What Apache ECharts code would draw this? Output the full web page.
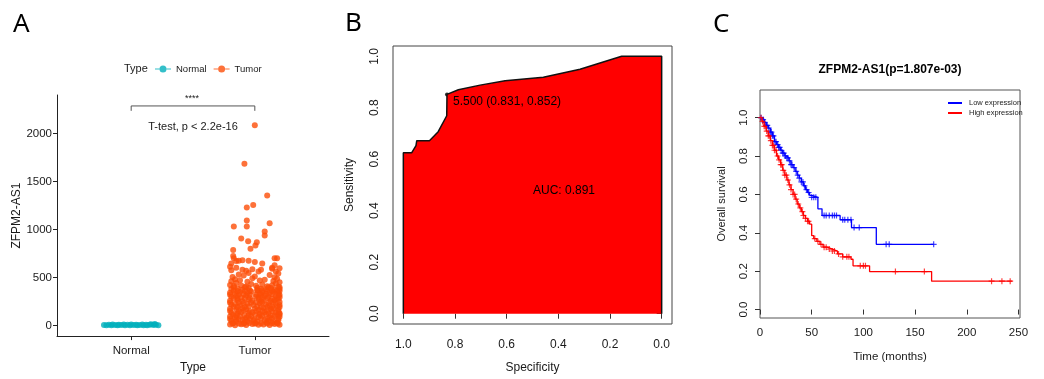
<!DOCTYPE html>
<html>
<head>
<meta charset="utf-8">
<title>ZFPM2-AS1</title>
<script src="https://cdn.jsdelivr.net/npm/echarts@6.0.0/dist/echarts.min.js"></script>
<style>
  html, body { margin: 0; padding: 0; background: #fff; }
  #chart { width: 1044px; height: 379px; }
</style>
</head>
<body>
<div id="chart"></div>
<script>
// ---- A: expression by group, points are [jitter offset, value]
const groups = ['Normal', 'Tumor'];
const normalPoints = [
  [-0.22, 3], [-0.2, 1], [-0.18, 6], [-0.16, 2], [-0.15, 9], [-0.13, 4], [-0.11, 1], [-0.1, 7],
  [-0.08, 3], [-0.06, 10], [-0.05, 2], [-0.03, 5], [-0.01, 1], [0.0, 8], [0.02, 3], [0.04, 6],
  [0.05, 1], [0.07, 4], [0.09, 9], [0.1, 2], [0.12, 5], [0.13, 1], [0.15, 7], [0.16, 12],
  [0.18, 3], [0.19, 15], [0.2, 6], [0.22, 2]
];
const tumorPoints = [
  [-0.2, 8], [-0.16, 2], [-0.11, 12], [-0.07, 4], [-0.02, 15], [0.03, 6], [0.07, 10], [0.12, 3], [0.16, 14], [0.2, 5],
  [-0.19, 48], [-0.15, 41], [-0.1, 55], [-0.06, 44], [-0.01, 52], [0.02, 38], [0.08, 57], [0.11, 46], [0.15, 40], [0.19, 53],
  [-0.2, 92], [-0.16, 85], [-0.12, 98], [-0.07, 80], [-0.03, 95], [0.03, 88], [0.06, 101], [0.12, 83], [0.16, 96], [0.2, 90],
  [-0.19, 131], [-0.14, 124], [-0.11, 140], [-0.05, 128], [-0.02, 135], [0.04, 120], [0.08, 138], [0.11, 127], [0.17, 133], [0.2, 125],
  [-0.2, 172], [-0.15, 165], [-0.1, 180], [-0.07, 168], [0.0, 176], [0.03, 162], [0.07, 184], [0.13, 170], [0.15, 178], [0.19, 166],
  [-0.19, 214], [-0.16, 222], [-0.12, 208], [-0.06, 226], [-0.01, 212], [0.04, 230], [0.09, 216], [0.12, 205], [0.17, 224], [0.2, 211],
  [-0.2, 256], [-0.14, 265], [-0.1, 250], [-0.05, 270], [-0.02, 258], [0.05, 248], [0.07, 268], [0.13, 255], [0.16, 262], [0.19, 274],
  [-0.19, 298], [-0.15, 305], [-0.11, 290], [-0.07, 312], [0.01, 300], [0.03, 294], [0.08, 308], [0.11, 296], [0.17, 302], [0.2, 315],
  [-0.2, 340], [-0.16, 332], [-0.12, 348], [-0.06, 336], [-0.03, 352], [0.04, 330], [0.06, 344], [0.12, 338], [0.15, 350], [0.19, 334],
  [-0.19, 378], [-0.14, 385], [-0.1, 372], [-0.05, 390], [0.02, 368], [0.05, 382], [0.09, 376], [0.13, 388], [0.16, 370], [0.2, 380],
  [-0.175, 25], [-0.085, 28], [0.005, 22], [0.095, 30], [0.18, 26], [-0.13, 65], [-0.04, 70], [0.05, 68], [0.14, 72],
  [-0.175, 110], [-0.085, 105], [0.0, 112], [0.09, 115], [0.18, 108], [-0.13, 150], [-0.04, 148], [0.06, 152], [0.14, 145],
  [-0.17, 195], [-0.08, 190], [0.02, 196], [0.1, 192], [0.18, 198], [-0.13, 238], [-0.03, 236], [0.06, 240], [0.15, 242],
  [-0.17, 280], [-0.08, 282], [0.03, 278], [0.1, 284], [0.18, 286], [-0.13, 322], [-0.04, 318], [0.05, 320], [0.14, 324],
  [-0.17, 360], [-0.08, 358], [0.02, 362], [0.1, 356], [0.18, 360],
  [-0.18, 18], [-0.13, 20], [-0.09, 17], [-0.045, 24], [0.0, 19], [0.05, 21], [0.1, 18], [0.14, 23], [0.185, 20],
  [-0.2, 66], [-0.15, 62], [-0.08, 64], [0.0, 62], [0.1, 66], [0.19, 70],
  [-0.15, 105], [-0.05, 102], [0.04, 108], [0.13, 104], [0.2, 112],
  [-0.2, 150], [-0.09, 155], [0.01, 150], [0.1, 158], [0.19, 148],
  [-0.14, 190], [-0.05, 196], [0.05, 188], [0.14, 194], [0.2, 190],
  [-0.2, 235], [-0.09, 232], [0.01, 240], [0.11, 236], [0.2, 244],
  [-0.14, 282], [-0.04, 285], [0.06, 288], [0.14, 280], [0.2, 292],
  [-0.2, 320], [-0.09, 325], [0.01, 322], [0.09, 326], [0.19, 320],
  [-0.14, 358], [-0.04, 362], [0.06, 366], [0.14, 360], [0.2, 358],
  [-0.17, 395], [-0.08, 398], [0.02, 392], [0.11, 396], [0.2, 398],
  [-0.2, 420], [-0.17, 410], [-0.15, 440], [-0.11, 415], [-0.07, 405], [-0.03, 430], [0.01, 412], [0.06, 425], [0.1, 408], [0.14, 418], [0.19, 402], [0.17, 435],
  [-0.19, 460], [-0.16, 480], [-0.12, 470], [-0.06, 455], [-0.02, 490], [0.04, 468], [0.08, 475], [0.15, 462], [0.18, 485], [0.2, 450],
  [-0.18, 505], [-0.13, 530], [-0.09, 520], [-0.05, 545], [0.0, 510], [0.03, 560], [0.12, 525], [0.16, 500], [0.19, 540],
  [-0.19, 575], [-0.15, 600], [-0.1, 580], [-0.07, 570], [-0.02, 585], [0.05, 578], [0.14, 590], [0.17, 560], [0.2, 595],
  [-0.19, 645], [-0.2, 610], [0.16, 625], [0.14, 600],
  [-0.17, 700], [-0.15, 670], [-0.13, 672], [-0.1, 678], [-0.05, 672], [0.0, 660], [0.16, 700], [0.18, 700],
  [-0.175, 723], [-0.175, 784], [-0.11, 905], [-0.054, 877], [0.06, 644], [0.016, 866], [0.005, 832], [-0.035, 798],
  [0.08, 979], [0.08, 935], [0.12, 1065], [-0.065, 1031], [-0.065, 1092], [-0.17, 1031], [-0.065, 1229], [-0.013, 1253],
  [0.1, 1353], [-0.084, 1685], [0.0, 2085]
];
const exprTicks = [0, 500, 1000, 1500, 2000];

// ---- B: ROC curve
const rocSpecificity = [1.0, 1.0, 0.968, 0.951, 0.948, 0.899, 0.865, 0.832, 0.831, 0.787, 0.703, 0.606, 0.458, 0.316, 0.155, 0.0, 0.0];
const rocSensitivity = [0.0, 0.625, 0.625, 0.653, 0.672, 0.672, 0.707, 0.769, 0.852, 0.870, 0.888, 0.905, 0.919, 0.950, 1.0, 1.0, 0.0];
const bestThreshold = 5.5;
const bestSpec = 0.831;
const bestSens = 0.852;
const auc = 0.891;
const rocTicks = [0, 0.2, 0.4, 0.6, 0.8, 1.0];

// ---- C: Kaplan-Meier
const lowTime = [0, 2, 4, 6, 8, 10, 12, 14, 16, 18, 20, 22, 24, 26, 28, 30, 32, 34, 36, 38, 40, 42, 44, 46, 48, 50, 56, 60, 77.5, 88.5, 112.5];
const lowSurv = [1, 0.99, 0.975, 0.96, 0.945, 0.925, 0.905, 0.875, 0.86, 0.845, 0.83, 0.815, 0.8, 0.79, 0.775, 0.755, 0.74, 0.72, 0.7, 0.685, 0.665, 0.645, 0.625, 0.61, 0.595, 0.585, 0.525, 0.49, 0.468, 0.427, 0.34];
const lowEnd = 168;
const lowCensor = [1, 3, 4.5, 6, 7, 8.5, 10, 11, 12, 13, 14.5, 15.5, 17, 18, 19, 20.5, 22, 23, 24.5, 26, 27, 28.5, 30, 31, 33, 35, 36.5, 38, 40, 41.5, 43, 45, 47, 50, 52, 54, 62, 64, 67, 70, 72, 74, 80, 82, 85, 88, 91, 96, 122, 125, 168];
const highTime = [0, 2, 4, 6, 8, 10, 12, 14, 16, 18, 20, 22, 24, 26, 28, 30, 32, 34, 36, 38, 40, 42, 44, 46, 48, 50, 52, 55, 58, 61, 65, 70, 75, 80, 88, 90, 106, 166];
const highSurv = [1, 0.98, 0.955, 0.93, 0.905, 0.88, 0.855, 0.83, 0.8, 0.78, 0.755, 0.725, 0.7, 0.675, 0.65, 0.625, 0.6, 0.575, 0.55, 0.53, 0.51, 0.49, 0.475, 0.46, 0.445, 0.385, 0.37, 0.355, 0.34, 0.325, 0.315, 0.305, 0.29, 0.275, 0.262, 0.228, 0.198, 0.148];
const highEnd = 244;
const highCensor = [1, 2.5, 4, 5, 6.5, 8, 9, 10.5, 12, 13, 14, 15.5, 17, 18.5, 20, 21, 22.5, 24, 25.5, 27, 28.5, 30, 32, 33.5, 35, 37, 39, 41, 42, 44, 46, 47, 53, 56, 59, 62, 64, 67, 70, 72, 76, 80, 84, 86, 97, 100, 102, 131, 159, 224, 234, 242];
const timeTicks = [0, 50, 100, 150, 200, 250];
const survTicks = [0, 0.2, 0.4, 0.6, 0.8, 1.0];
const kmGene = 'ZFPM2-AS1';
const kmP = '1.807e-03';

const FONT = '"Liberation Sans", Arial, sans-serif';
const INK = '#1a1a1a';
const PLUS = 'path://M4,0h2v4h4v2h-4v4h-2v-4h-4v-2h4z';
const DOT_LINE = 'path://M0,3.4h4.6v1.2h-4.6z M11.4,3.4h4.6v1.2h-4.6z M4.5,4a3.5,3.5 0 1 0 7,0a3.5,3.5 0 1 0 -7,0z';

function stepAt(times, survs, t) {
  let s = survs[0];
  for (let i = 0; i < times.length; i++) {
    if (times[i] <= t) s = survs[i];
  }
  return s;
}
function kmLine(times, survs, end) {
  const d = times.map((t, i) => [t, survs[i]]);
  d.push([end, survs[survs.length - 1]]);
  return d;
}
const fmt1 = v => Number(v).toFixed(1);

const boxAxis = (extra) => Object.assign({
  type: 'value',
  axisLine: { show: false },
  splitLine: { show: false },
  axisTick: { show: true, length: 5, lineStyle: { color: '#333' } },
  axisLabel: { color: INK, fontSize: 12, fontFamily: FONT },
  nameLocation: 'middle',
  nameTextStyle: { color: INK, fontSize: 12, fontFamily: FONT }
}, extra);

const chart = echarts.init(document.getElementById('chart'));
chart.setOption({
  animation: false,
  backgroundColor: '#fff',
  textStyle: { fontFamily: FONT },
  grid: [
    { left: 57, top: 95, width: 272, height: 246 },
    { left: 393, top: 46, width: 279, height: 280, show: true, borderColor: '#444', borderWidth: 1 },
    { left: 760, top: 90, width: 260, height: 228, show: true, borderColor: '#555', borderWidth: 1 }
  ],
  legend: [
    {
      data: groups, left: 155, top: 64, padding: 0, itemWidth: 16, itemHeight: 8, itemGap: 7,
      icon: DOT_LINE, textStyle: { fontSize: 9.5, color: INK }, selectedMode: false
    },
    {
      data: ['Low expression', 'High expression'], orient: 'vertical', left: 943, top: 94,
      itemWidth: 14, itemHeight: 2, itemGap: 2, icon: 'rect',
      textStyle: { fontSize: 7.5, color: INK, padding: [0, 0, 0, 2] }, selectedMode: false
    }
  ],
  xAxis: [
    {
      gridIndex: 0, type: 'value', min: 0.4, max: 2.6,
      axisLine: { show: true, onZero: false, lineStyle: { color: '#222', width: 1 } },
      axisTick: { show: true, length: 4, customValues: [1, 2], lineStyle: { color: '#222' } },
      axisLabel: { customValues: [1, 2], formatter: v => groups[v - 1], color: INK, fontSize: 11.5, margin: 9 },
      splitLine: { show: false },
      name: 'Type', nameLocation: 'middle', nameGap: 25,
      nameTextStyle: { color: INK, fontSize: 12 }
    },
    boxAxis({
      gridIndex: 1, min: -0.04, max: 1.04, inverse: true,
      axisTick: { show: true, length: 5, customValues: rocTicks, lineStyle: { color: '#333' } },
      axisLabel: { customValues: rocTicks, formatter: fmt1, color: INK, fontSize: 12, margin: 15 },
      name: 'Specificity', nameGap: 38
    }),
    boxAxis({
      gridIndex: 2, min: 0, max: 251.5,
      axisTick: { show: true, length: 5, customValues: timeTicks, lineStyle: { color: '#333' } },
      axisLabel: { customValues: timeTicks, color: INK, fontSize: 11.5, margin: 9 },
      name: 'Time (months)', nameGap: 33,
      nameTextStyle: { color: INK, fontSize: 11.5 }
    })
  ],
  yAxis: [
    {
      gridIndex: 0, type: 'value', min: -112, max: 2400,
      axisLine: { show: true, onZero: false, lineStyle: { color: '#222', width: 1 } },
      axisTick: { show: true, length: 4, customValues: exprTicks, lineStyle: { color: '#222' } },
      axisLabel: { customValues: exprTicks, formatter: v => String(v), color: INK, fontSize: 11.5, margin: 5 },
      splitLine: { show: false },
      name: 'ZFPM2-AS1', nameLocation: 'middle', nameGap: 32,
      nameTextStyle: { color: INK, fontSize: 12 }
    },
    boxAxis({
      gridIndex: 1, min: -0.04, max: 1.04,
      axisTick: { show: true, length: 5, customValues: rocTicks, lineStyle: { color: '#333' } },
      axisLabel: { customValues: rocTicks, formatter: fmt1, rotate: 90, color: INK, fontSize: 12, margin: 12 },
      name: 'Sensitivity', nameGap: 37
    }),
    boxAxis({
      gridIndex: 2, min: -0.044, max: 1.144,
      axisTick: { show: true, length: 5, customValues: survTicks, lineStyle: { color: '#333' } },
      axisLabel: { customValues: survTicks, formatter: fmt1, rotate: 90, color: INK, fontSize: 11.5, margin: 10 },
      name: 'Overall survival', nameGap: 33,
      nameTextStyle: { color: INK, fontSize: 11 }
    })
  ],
  series: [
    {
      name: 'Normal', type: 'scatter', xAxisIndex: 0, yAxisIndex: 0, symbolSize: 6,
      itemStyle: { color: '#00AFBB' },
      data: normalPoints.map(p => [1 + p[0], p[1]])
    },
    {
      name: 'Tumor', type: 'scatter', xAxisIndex: 0, yAxisIndex: 0, symbolSize: 6,
      itemStyle: { color: '#FC4E07' },
      data: tumorPoints.map(p => [2 + p[0], p[1]])
    },
    {
      name: 'bracket', type: 'line', xAxisIndex: 0, yAxisIndex: 0, symbol: 'none', silent: true,
      lineStyle: { color: '#555', width: 1 },
      data: [[1, 2235], [1, 2286], [2, 2286], [2, 2235]]
    },
    {
      name: 'ROC', type: 'line', xAxisIndex: 1, yAxisIndex: 1, symbol: 'none', silent: true,
      lineStyle: { color: '#111', width: 1.5 },
      areaStyle: { color: '#FF0000', opacity: 1, origin: 0 },
      data: rocSpecificity.map((s, i) => [s, rocSensitivity[i]])
    },
    {
      name: 'best', type: 'scatter', xAxisIndex: 1, yAxisIndex: 1, symbolSize: 4,
      itemStyle: { color: '#000' },
      data: [[bestSpec, bestSens]]
    },
    {
      name: 'Low expression', type: 'line', xAxisIndex: 2, yAxisIndex: 2, step: 'end', symbol: 'none',
      color: '#0000FF', lineStyle: { color: '#0000FF', width: 1.3 },
      data: kmLine(lowTime, lowSurv, lowEnd)
    },
    {
      name: 'High expression', type: 'line', xAxisIndex: 2, yAxisIndex: 2, step: 'end', symbol: 'none',
      color: '#FF0000', lineStyle: { color: '#FF0000', width: 1.3 },
      data: kmLine(highTime, highSurv, highEnd)
    },
    {
      name: 'lowCensor', type: 'scatter', xAxisIndex: 2, yAxisIndex: 2, symbol: PLUS, symbolSize: 6,
      itemStyle: { color: '#0000FF', opacity: 0.75 },
      data: lowCensor.map(t => [t, stepAt(lowTime, lowSurv, t)])
    },
    {
      name: 'highCensor', type: 'scatter', xAxisIndex: 2, yAxisIndex: 2, symbol: PLUS, symbolSize: 6,
      itemStyle: { color: '#FF0000', opacity: 0.75 },
      data: highCensor.map(t => [t, stepAt(highTime, highSurv, t)])
    }
  ],
  graphic: [
    { type: 'text', z: 100, left: 13, top: 12, style: { text: 'A', fontSize: 26, fontFamily: '"Noto Sans", sans-serif', fill: '#000' } },
    { type: 'text', z: 100, left: 345, top: 11, style: { text: 'B', fontSize: 26, fontFamily: '"Noto Sans", sans-serif', fill: '#000' } },
    { type: 'text', z: 100, left: 713, top: 12, style: { text: 'C', fontSize: 26, fontFamily: '"Noto Sans", sans-serif', fill: '#000' } },
    { type: 'text', z: 100, x: 124, y: 69, style: { text: 'Type', fontSize: 11, fill: INK, verticalAlign: 'middle', fontFamily: FONT } },
    { type: 'text', z: 100, x: 192, y: 99, style: { text: '****', fontSize: 9, fill: INK, align: 'center', verticalAlign: 'middle', fontFamily: FONT } },
    { type: 'text', z: 100, x: 193, y: 127, style: { text: 'T-test, p < 2.2e-16', fontSize: 11, fill: INK, align: 'center', verticalAlign: 'middle', fontFamily: FONT } },
    { type: 'text', z: 100, x: 453, y: 102, style: { text: bestThreshold.toFixed(3) + ' (' + bestSpec.toFixed(3) + ', ' + bestSens.toFixed(3) + ')', fontSize: 12, fill: '#000', verticalAlign: 'middle', fontFamily: FONT } },
    { type: 'text', z: 100, x: 564, y: 191, style: { text: 'AUC: ' + auc.toFixed(3), fontSize: 12, fill: '#000', align: 'center', verticalAlign: 'middle', fontFamily: FONT } },
    { type: 'text', z: 100, x: 890, y: 70, style: { text: kmGene + '(p=' + kmP + ')', fontSize: 12, fontWeight: 'bold', fill: '#000', align: 'center', verticalAlign: 'middle', fontFamily: FONT } }
  ]
});
window.addEventListener('resize', () => chart.resize());
</script>
</body>
</html>
